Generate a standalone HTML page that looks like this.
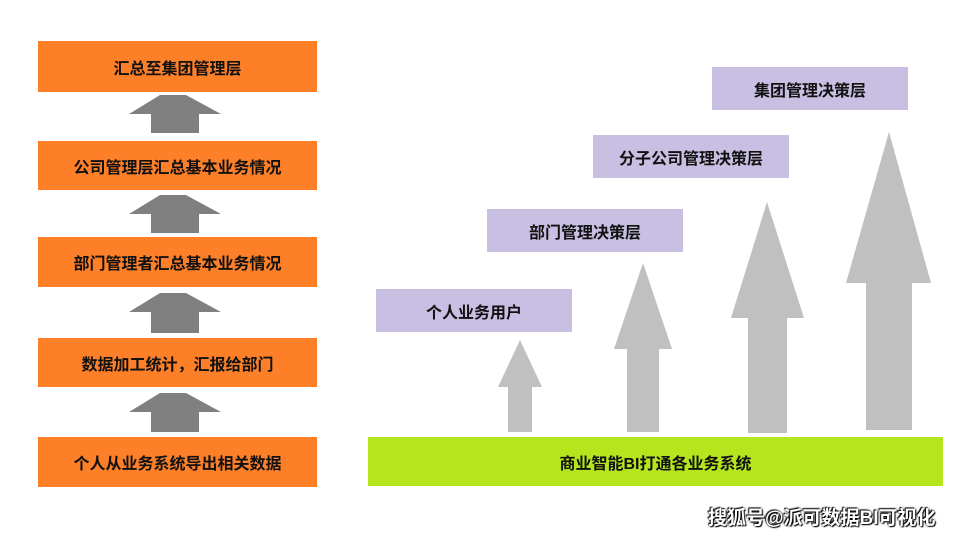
<!DOCTYPE html>
<html><head><meta charset="utf-8"><style>
body{margin:0;width:958px;height:537px;background:#fff;position:relative;overflow:hidden;font-family:"Liberation Sans","Noto Sans CJK SC",sans-serif;}
.b{position:absolute;display:flex;align-items:center;justify-content:center;font-size:16px;font-weight:bold;color:#111;}
.o{background:#fd7f28;left:38px;width:279px;}
.p{background:#c8bfe3;width:196px;height:43px;}
svg{position:absolute;left:0;top:0;}
.w{position:absolute;left:708px;top:503px;font-size:19px;color:#fff;font-weight:bold;text-shadow:0 0 2px #000,1px 1px 1px #000,-1px -1px 1px #000;}
</style></head><body>
<svg width="958" height="537">
<g fill="#808080">
<polygon points="160,95 186,95 221,114 199,114 199,133 151,133 151,114 129,114"/>
<polygon points="160,195 186,195 221,214 199,214 199,233 151,233 151,214 129,214"/>
<polygon points="160,293 186,293 221,312 199,312 199,333 151,333 151,312 129,312"/>
<polygon points="160,393 186,393 221,412 199,412 199,432 151,432 151,412 129,412"/>
</g>
<g fill="#c0c0c0">
<polygon points="520,340 542,387 532,387 532,432 508,432 508,387 498,387"/>
<polygon points="643,263 672,349 659,349 659,432 627,432 627,349 614,349"/>
<polygon points="767,202 804,318 787,318 787,433 748,433 748,318 731,318"/>
<polygon points="889,132 931,283 912,283 912,430 866,430 866,283 846,283"/>
</g>
</svg>
<div class="b o" style="top:41px;height:51px">汇总至集团管理层</div>
<div class="b o" style="top:141px;height:49px">公司管理层汇总基本业务情况</div>
<div class="b o" style="top:237px;height:50px">部门管理者汇总基本业务情况</div>
<div class="b o" style="top:338px;height:49px">数据加工统计，汇报给部门</div>
<div class="b o" style="top:437px;height:50px">个人从业务系统导出相关数据</div>
<div class="b p" style="left:376px;top:289px">个人业务用户</div>
<div class="b p" style="left:487px;top:209px">部门管理决策层</div>
<div class="b p" style="left:593px;top:135px">分子公司管理决策层</div>
<div class="b p" style="left:712px;top:67px">集团管理决策层</div>
<div class="b" style="left:368px;top:437px;width:575px;height:49px;background:#b5e61d">商业智能BI打通各业务系统</div>
<div class="w">搜狐号@派可数据BI可视化</div>
</body></html>
